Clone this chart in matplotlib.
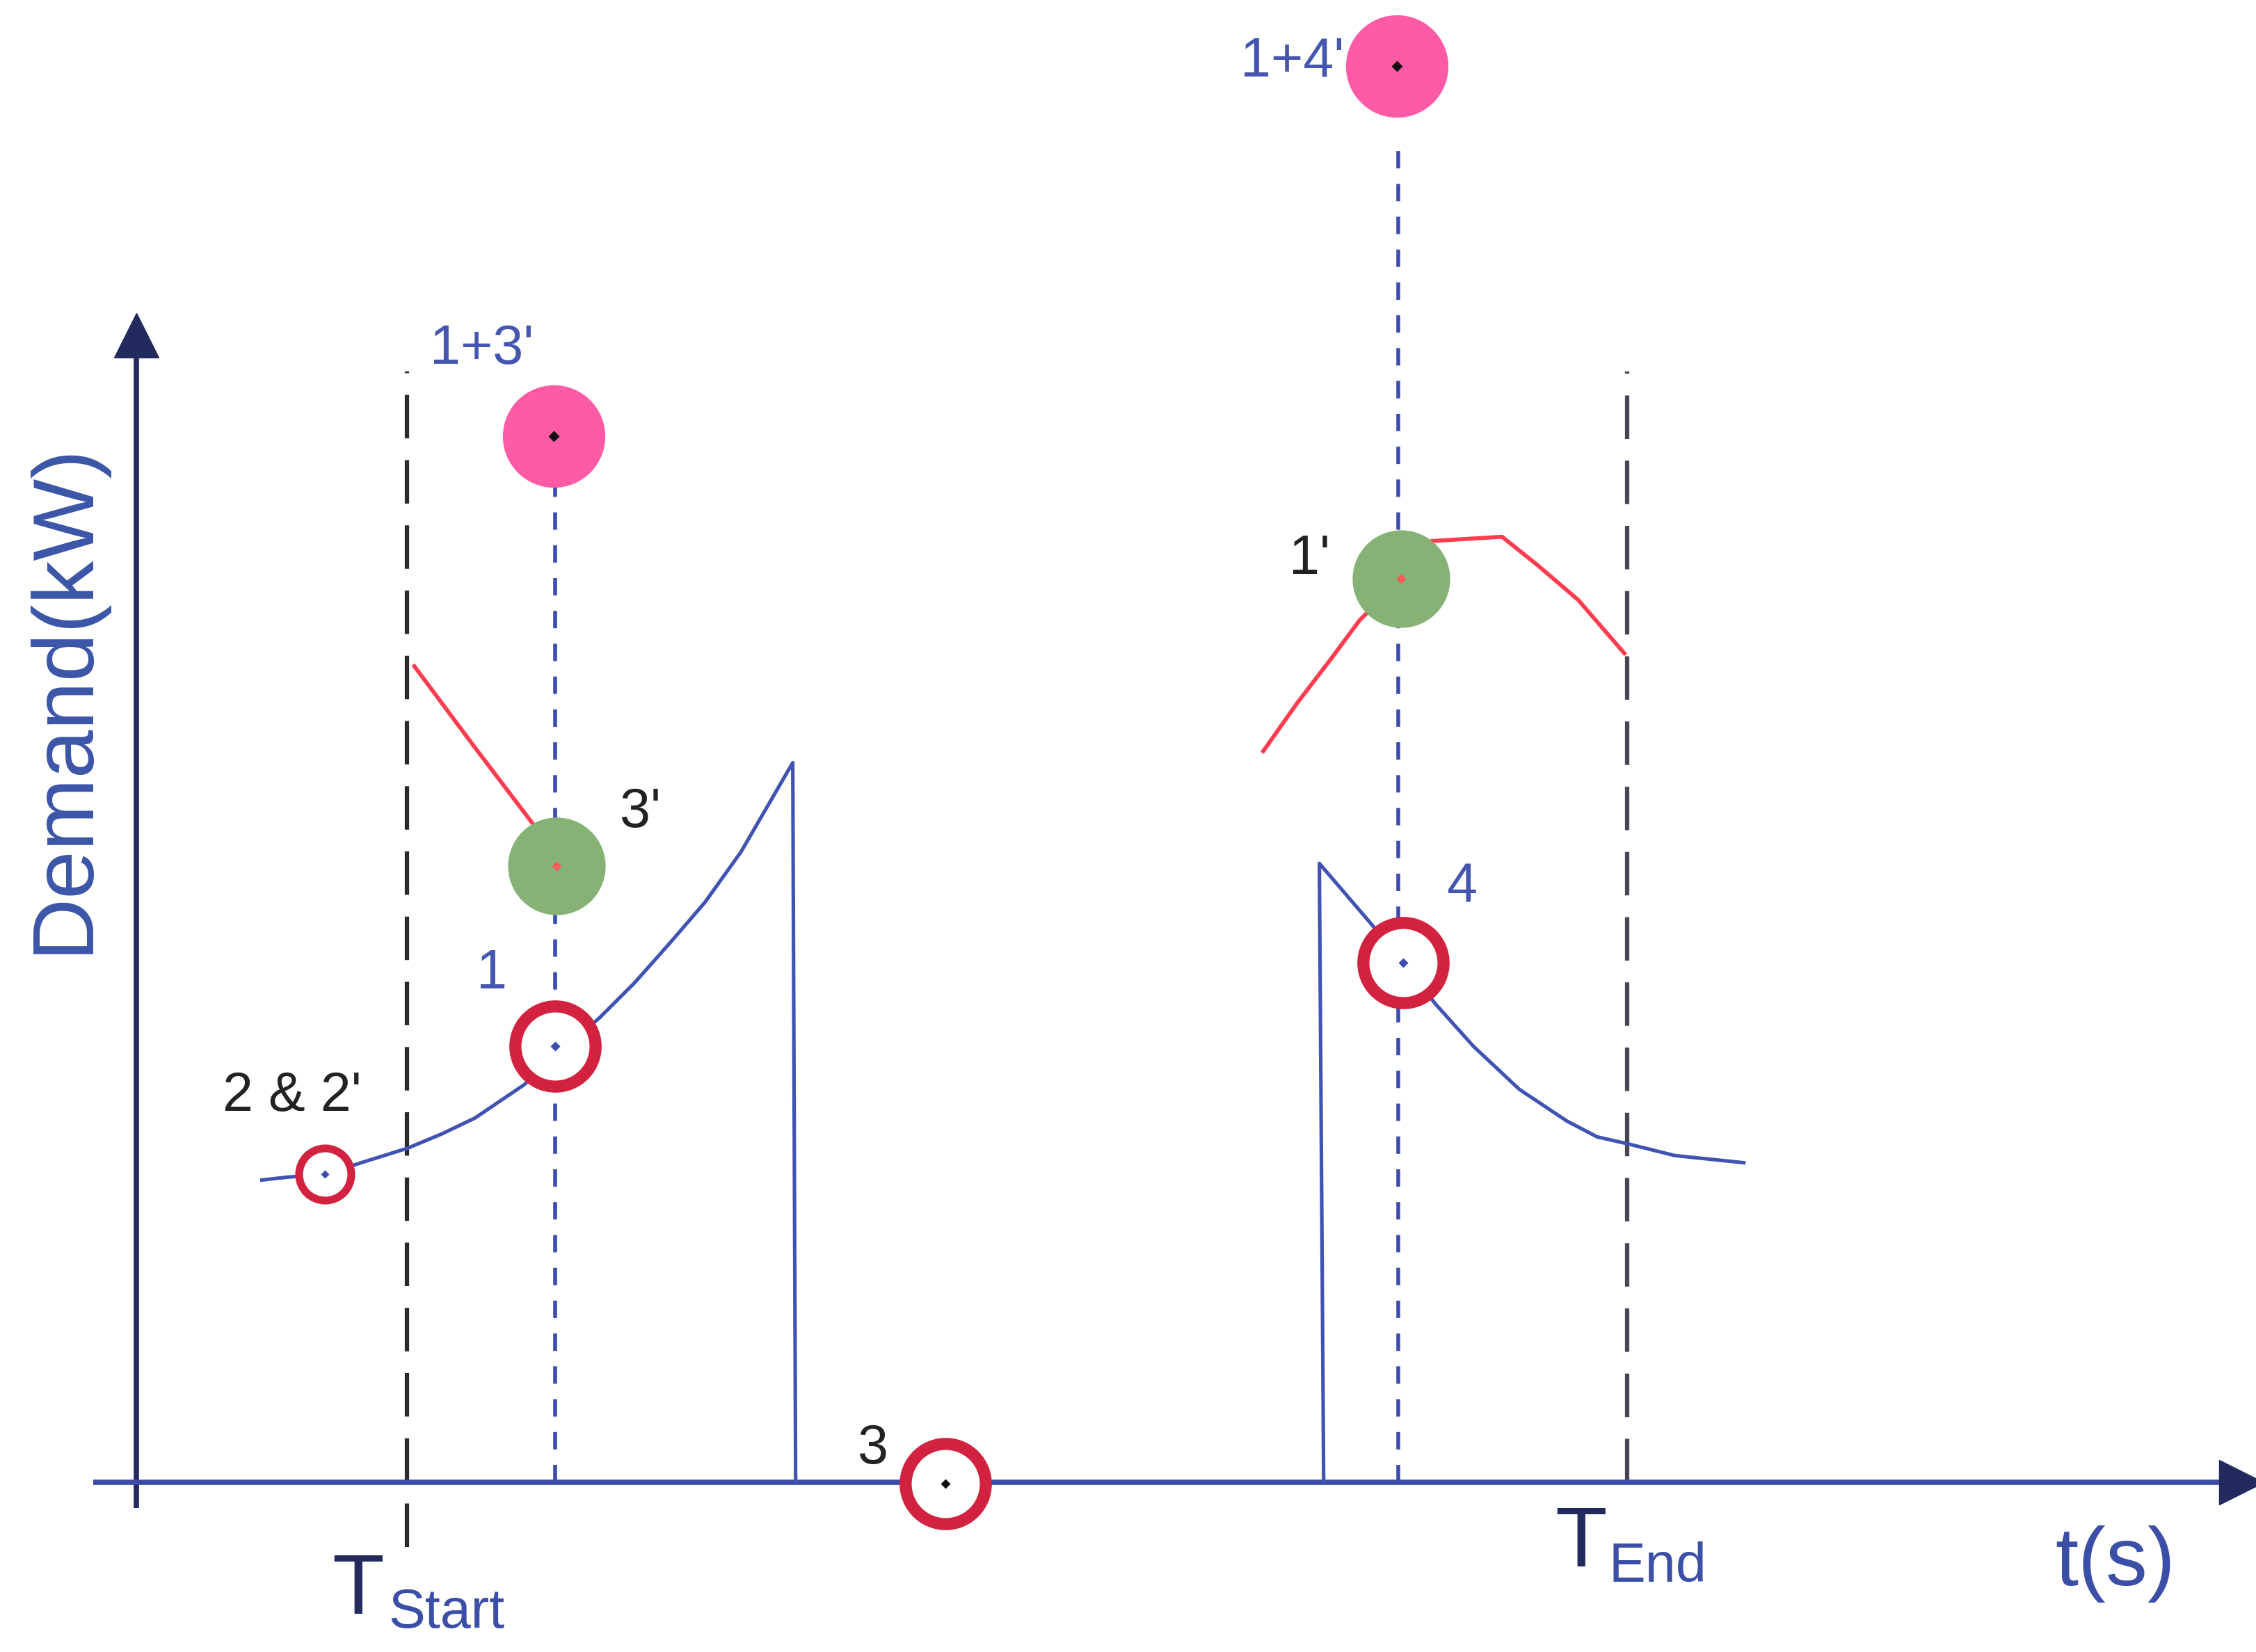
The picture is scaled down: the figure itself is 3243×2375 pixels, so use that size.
import matplotlib
matplotlib.use("Agg")
import matplotlib.pyplot as plt

plt.rcParams['font.family'] = ['Liberation Sans', 'DejaVu Sans']

# ---------------- data (schematic units: t along x, demand along y) ----------------
# demand profile before the event (rising) and its drop to zero
curve1_t = [87, 105, 131, 156, 188, 212, 235, 269, 291, 322, 346, 370, 395, 420, 456, 458]
curve1_d = [210, 212, 214, 222, 232, 242, 253, 276, 296, 323, 347, 374, 403, 438, 500, 0]
# demand profile after the event (jump then decay)
curve2_t = [825, 822, 858, 880, 903, 929, 961, 994, 1015, 1037, 1069, 1117]
curve2_d = [0, 430, 388, 361, 332, 303, 273, 251, 240, 235, 227, 222]
# red (shifted) profiles
red1_t = [193, 234, 275]
red1_d = [567, 512, 458]
red2_t = [783, 807, 830, 850, 879, 900, 949, 974, 1002, 1034]
red2_d = [508, 542, 572, 599, 628, 654, 657, 637, 613, 576]

# time markers
t_start = 188
t_end = 1036
t_event_a = 291
t_event_b = 877

# points
pink_t = [290, 876]
pink_d = [727, 984]
green_t = [292, 879]
green_d = [428, 628]
ring_t = [291, 880, 562]
ring_d = [303, 361, -1]
ring_dot_colors = ['#3a4cb0', '#3a4cb0', '#111111']
small_ring_t = [131]
small_ring_d = [214]

labels = ["1+3'", "1+4'", "3'", "1", "2 & 2'", "1'", "4", "3"]
label_t = [240, 803, 350, 247, 108, 815, 921, 512]
label_d = [787, 987, 465, 353, 268, 641, 413, 23]
label_colors = ['#4556b0', '#4556b0', '#222222', '#4556b0', '#222222', '#222222', '#4556b0', '#222222']

# ---------------- styles ----------------
AXIS_BLUE = '#3a4ca6'
NAVY = '#232a5e'
CURVE_BLUE = '#4053b3'
RED = '#ff3c50'
RING = '#d3223f'
PINK = '#ff5aa6'
GREEN = '#86b276'

fig = plt.figure(figsize=(32.43, 23.75), dpi=100)
ax = fig.add_axes([0, 0, 1, 1])
ax.set_xlim(-95, 1473)
ax.set_ylim(-118, 1030)
ax.axis('off')

# axes
ax.plot([0, 0], [-18, 790], color=NAVY, lw=5.5, solid_capstyle='butt', zorder=2)
ax.plot([0], [797], marker='^', ms=46, color=NAVY, mec=NAVY, zorder=3)
ax.plot([-30, 1450], [0, 0], color=AXIS_BLUE, lw=5.5, solid_capstyle='butt', zorder=2)
ax.plot([1463], [0], marker='>', ms=46, color=NAVY, mec=NAVY, zorder=3)

# dashed time lines
ax.plot([t_start, t_start], [-45, 772], color='#2a2a2e', lw=4.5, dashes=(10, 5), zorder=1)
ax.plot([t_end, t_end], [0, 772], color='#4a4552', lw=4.5, dashes=(10, 5), zorder=1)
ax.plot([t_event_a, t_event_a], [0, 700], color='#3a4cb0', lw=4, dashes=(4.5, 4), zorder=1)
ax.plot([t_event_b, t_event_b], [0, 928], color='#3a4cb0', lw=4, dashes=(4.5, 4), zorder=1)

# curves
ax.plot(curve1_t, curve1_d, color=CURVE_BLUE, lw=3.7, zorder=3)
ax.plot(curve2_t, curve2_d, color=CURVE_BLUE, lw=3.7, zorder=3)
ax.plot(red1_t, red1_d, color=RED, lw=4.2, zorder=3)
ax.plot(red2_t, red2_d, color=RED, lw=4.2, zorder=3)

# filled circles
ax.plot(pink_t, pink_d, ls='none', marker='o', ms=106, mfc=PINK, mec='none', zorder=4)
ax.plot(pink_t, pink_d, ls='none', marker='D', ms=8, mfc='#111111', mec='none', zorder=5)
ax.plot(green_t, green_d, ls='none', marker='o', ms=101, mfc=GREEN, mec='none', zorder=4)
ax.plot(green_t, green_d, ls='none', marker='D', ms=7, mfc='#ff5a5a', mec='none', zorder=5)

# rings
ax.plot(ring_t, ring_d, ls='none', marker='o', ms=83, mfc='white', mec=RING, mew=12.5, zorder=4)
for t, d, c in zip(ring_t, ring_d, ring_dot_colors):
    ax.plot([t], [d], ls='none', marker='D', ms=7, mfc=c, mec='none', zorder=5)
ax.plot(small_ring_t, small_ring_d, ls='none', marker='o', ms=54, mfc='white', mec=RING, mew=8, zorder=4)
ax.plot(small_ring_t, small_ring_d, ls='none', marker='D', ms=6, mfc='#3a4cb0', mec='none', zorder=5)

# labels
for s, t, d, c in zip(labels, label_t, label_d, label_colors):
    ax.text(t, d, s, color=c, fontsize=57, ha='center', va='center', zorder=6)

# axis titles
ax.text(-50, 545, 'Demand(kW)', rotation=90, color='#3b55a8', fontsize=90,
        ha='center', va='center')
ax.text(1375, -57, 't(s)', color='#3b4fa6', fontsize=86, ha='center', va='center')

ax.text(154, -76, 'T', color='#232a5e', fontsize=88, ha='center', va='center')
ax.text(175, -91, 'Start', color='#3b4fa6', fontsize=57, ha='left', va='center')
ax.text(1004, -43, 'T', color='#232a5e', fontsize=88, ha='center', va='center')
ax.text(1023, -59, 'End', color='#3b4fa6', fontsize=57, ha='left', va='center')

fig.savefig('out.png', dpi=100)
